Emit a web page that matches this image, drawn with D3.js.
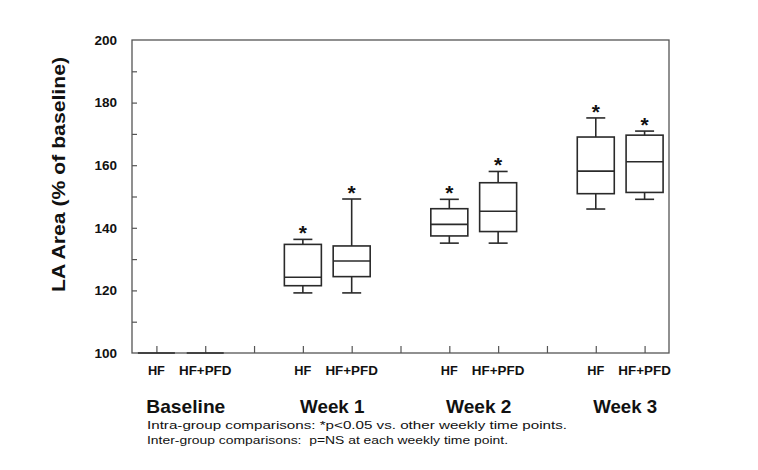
<!DOCTYPE html>
<html><head><meta charset="utf-8">
<script src="https://cdn.jsdelivr.net/npm/d3@7/dist/d3.min.js"></script>
<style>body{margin:0;background:#fff;} svg{display:block;font-family:"Liberation Sans",Arial,sans-serif;}</style>
</head><body>
<svg id="c" width="758" height="470"></svg>
<script>
const weeks = ["Baseline", "Week 1", "Week 2", "Week 3"];
const groups = ["HF", "HF+PFD"];
// per box in order: Baseline HF, Baseline HF+PFD, W1 HF, W1 HF+PFD, W2 HF, W2 HF+PFD, W3 HF, W3 HF+PFD
const whiskerLow  = [100, 100, 119.2, 119.2, 135.1, 135.1, 146.0, 149.1];
const q1          = [100, 100, 121.5, 124.4, 137.4, 138.8, 150.9, 151.3];
const median      = [100, 100, 124.2, 129.4, 141.1, 145.3, 158.1, 161.1];
const q3          = [100, 100, 134.7, 134.2, 146.1, 154.4, 169.0, 169.6];
const whiskerHigh = [100, 100, 136.3, 149.2, 149.1, 158.0, 175.1, 170.9];
const significant = [false, false, true, true, true, true, true, true];
const yTicks = [100, 110, 120, 130, 140, 150, 160, 170, 180, 190, 200];
const yLabel = "LA Area (% of baseline)";
const notes = ["Intra-group comparisons: *p<0.05 vs. other weekly time points.",
               "Inter-group comparisons:  p=NS at each weekly time point."];

const svg = d3.select("#c");
const L = 132, R = 669, T = 40, B = 353;
const nSlots = weeks.length * 3 - 1;
const x = d3.scaleLinear().domain([-0.5, nSlots - 0.5]).range([L, R]);
const y = d3.scaleLinear().domain([100, 200]).range([B, T]);
const boxW = 37, capW = 19;
const ink = "#2a2a2a";

// fit text to a target width (the original lettering is horizontally stretched)
function fit(sel, w) {
  sel.attr("textLength", w).attr("lengthAdjust", "spacingAndGlyphs");
}

// frame
svg.append("rect").attr("x", L).attr("y", T).attr("width", R - L).attr("height", B - T)
  .attr("fill", "none").attr("stroke", "#555").attr("stroke-width", 1.3);

// y axis
const yAx = svg.append("g").attr("transform", `translate(${L},0)`)
  .call(d3.axisLeft(y).tickValues(yTicks).tickSize(-5).tickPadding(15)
    .tickFormat(d => d % 20 === 0 ? d : ""));
yAx.select(".domain").remove();
yAx.selectAll(".tick line").attr("stroke", "#555").attr("stroke-width", 1.2)
  .filter(d => d === 100 || d === 200).remove();
yAx.selectAll(".tick text").attr("font-size", 13.5).attr("font-weight", "bold")
  .attr("fill", "#111").attr("font-family", "'Liberation Sans',Arial,sans-serif");

// x axis ticks
const xAx = svg.append("g").attr("transform", `translate(0,${B})`)
  .call(d3.axisBottom(x).tickValues(d3.range(nSlots)).tickSize(-7).tickFormat(""));
xAx.select(".domain").remove();
xAx.selectAll(".tick line").attr("stroke", "#555").attr("stroke-width", 1.2);

// boxes
const boxes = [];
weeks.forEach((w, wi) => groups.forEach((g, gi) => {
  const i = wi * 2 + gi;
  boxes.push({week: w, group: g, slot: wi * 3 + gi, lo: whiskerLow[i], q1: q1[i],
    med: median[i], q3: q3[i], hi: whiskerHigh[i], sig: significant[i]});
}));
const gb = svg.append("g").attr("stroke", ink).attr("fill", "none").attr("stroke-width", 1.6);
boxes.forEach(b => {
  const cx = x(b.slot);
  const g = gb.append("g");
  if (b.hi > b.lo) {
    g.append("line").attr("x1", cx).attr("x2", cx).attr("y1", y(b.hi)).attr("y2", y(b.q3));
    g.append("line").attr("x1", cx).attr("x2", cx).attr("y1", y(b.q1)).attr("y2", y(b.lo));
    g.append("line").attr("x1", cx - capW / 2).attr("x2", cx + capW / 2).attr("y1", y(b.hi)).attr("y2", y(b.hi));
    g.append("line").attr("x1", cx - capW / 2).attr("x2", cx + capW / 2).attr("y1", y(b.lo)).attr("y2", y(b.lo));
  }
  g.append("rect").attr("x", cx - boxW / 2).attr("y", y(b.q3)).attr("width", boxW)
    .attr("height", y(b.q1) - y(b.q3)).attr("stroke-width", b.hi > b.lo ? 1.6 : 2);
  g.append("line").attr("x1", cx - boxW / 2).attr("x2", cx + boxW / 2).attr("y1", y(b.med)).attr("y2", y(b.med));
  if (b.sig) {
    svg.append("text").attr("x", cx).attr("y", y(b.hi) + 1).attr("text-anchor", "middle")
      .attr("font-size", 21).attr("font-weight", "bold").attr("fill", "#111").text("*");
  }
  const t = svg.append("text").attr("x", cx).attr("y", 375).attr("text-anchor", "middle")
    .attr("font-size", 12.5).attr("font-weight", "bold").attr("fill", "#111").text(b.group);
  fit(t, b.group === "HF" ? 17 : 52.5);
});

// week labels
const weekW = [79, 64.5, 65.5, 64];
weeks.forEach((w, wi) => {
  const t = svg.append("text").attr("x", (x(wi * 3) + x(wi * 3 + 1)) / 2 + 5).attr("y", 413)
    .attr("text-anchor", "middle").attr("font-size", 18.5).attr("font-weight", "bold")
    .attr("fill", "#111").text(w);
  fit(t, weekW[wi]);
});

// y label
const yl = svg.append("text").attr("transform", `translate(65,${(T + B) / 2 - 22}) rotate(-90)`)
  .attr("text-anchor", "middle").attr("font-size", 18.5).attr("font-weight", "bold")
  .attr("fill", "#111").text(yLabel);
fit(yl, 235);

// notes
const noteW = [420, 361];
notes.forEach((n, i) => {
  const t = svg.append("text").attr("x", 147).attr("y", 429 + i * 15).attr("font-size", 11.5)
    .attr("fill", "#111").attr("xml:space", "preserve").style("white-space", "pre").text(n);
  fit(t, noteW[i]);
});
</script>
</body></html>
